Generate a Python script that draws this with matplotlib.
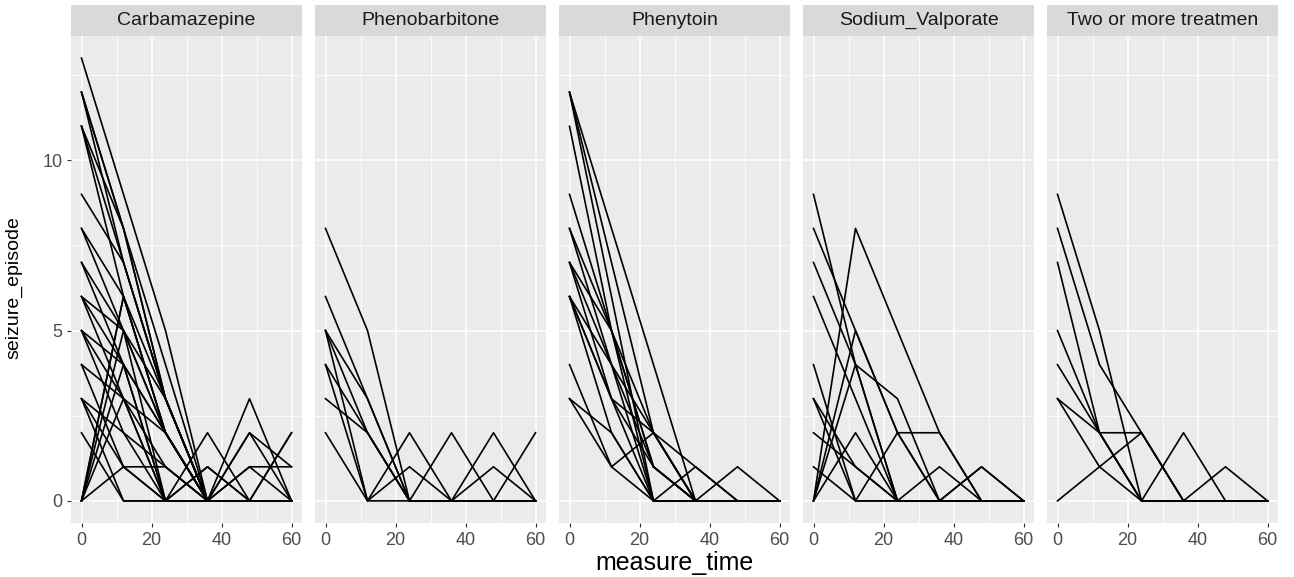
import numpy as np
import matplotlib
matplotlib.use("Agg")
from matplotlib import pyplot as plt
from matplotlib.patches import Rectangle

plt.rcParams['font.family'] = ['Liberation Sans', 'DejaVu Sans']

times = [0, 12, 24, 36, 48, 60]

treatments = ['Carbamazepine', 'Phenobarbitone', 'Phenytoin', 'Sodium_Valporate', 'Two or more treatmen']

carbamazepine = [
    [13, 9, 5, 0, 0, 0],
    [12, 8, 3, 0, 0, 0],
    [12, 7, 3, 0, 0, 0],
    [12, 8, 4, 0, 0, 0],
    [11, 7, 3, 0, 0, 0],
    [11, 6, 2, 0, 0, 0],
    [11, 8, 3, 0, 0, 0],
    [9, 7, 3, 0, 2, 0],
    [8, 6, 2, 0, 0, 0],
    [8, 5, 0, 0, 0, 0],
    [7, 5, 2, 0, 0, 0],
    [7, 4, 0, 2, 0, 0],
    [6, 5, 3, 0, 0, 0],
    [6, 4, 2, 0, 0, 2],
    [6, 3, 0, 1, 0, 0],
    [5, 4, 2, 0, 0, 0],
    [5, 3, 1, 0, 0, 0],
    [5, 2, 0, 0, 3, 0],
    [4, 3, 2, 0, 0, 0],
    [4, 1, 0, 0, 2, 1],
    [3, 2, 1, 0, 1, 1],
    [3, 1, 1, 0, 0, 0],
    [3, 0, 0, 1, 0, 0],
    [2, 0, 0, 0, 1, 0],
    [0, 5, 2, 0, 0, 0],
    [0, 6, 3, 0, 0, 0],
    [0, 4, 0, 0, 0, 2],
    [0, 3, 0, 0, 0, 0],
    [0, 1, 0, 0, 0, 0],
    [0, 6, 2, 0, 0, 0],
]

phenobarbitone = [
    [8, 5, 0, 0, 0, 0],
    [6, 3, 0, 2, 0, 0],
    [5, 2, 0, 0, 0, 2],
    [5, 0, 2, 0, 0, 0],
    [5, 3, 0, 0, 0, 0],
    [4, 0, 1, 0, 0, 0],
    [4, 2, 0, 0, 2, 0],
    [3, 2, 0, 0, 1, 0],
    [2, 0, 0, 0, 0, 0],
]

phenytoin = [
    [12, 8, 4, 0, 0, 0],
    [12, 7, 2, 0, 0, 0],
    [12, 6, 0, 0, 0, 0],
    [11, 5, 0, 0, 0, 0],
    [9, 5, 2, 0, 0, 0],
    [8, 5, 1, 0, 0, 0],
    [8, 4, 0, 0, 0, 0],
    [7, 5, 1, 0, 0, 0],
    [7, 3, 0, 1, 0, 0],
    [7, 4, 1, 0, 1, 0],
    [6, 3, 1, 0, 0, 0],
    [6, 2, 0, 0, 0, 0],
    [6, 4, 2, 0, 0, 0],
    [6, 3, 2, 1, 0, 0],
    [4, 1, 2, 0, 0, 0],
    [3, 2, 0, 0, 0, 0],
    [3, 1, 0, 0, 0, 0],
]

sodium_valporate = [
    [9, 4, 0, 0, 0, 0],
    [8, 5, 2, 0, 0, 0],
    [7, 4, 0, 0, 0, 0],
    [6, 3, 0, 0, 0, 0],
    [0, 8, 5, 2, 0, 0],
    [0, 4, 3, 0, 0, 0],
    [0, 5, 2, 2, 0, 0],
    [0, 2, 0, 0, 1, 0],
    [4, 0, 0, 1, 0, 0],
    [3, 1, 0, 0, 1, 0],
    [3, 0, 2, 0, 0, 0],
    [2, 1, 0, 0, 0, 0],
    [1, 0, 0, 0, 0, 0],
]

two_or_more = [
    [9, 5, 0, 0, 0, 0],
    [8, 4, 2, 0, 0, 0],
    [7, 2, 0, 0, 0, 0],
    [5, 2, 2, 0, 0, 0],
    [4, 2, 0, 0, 0, 0],
    [3, 2, 0, 2, 0, 0],
    [3, 1, 0, 0, 1, 0],
    [0, 1, 2, 0, 0, 0],
]

series = [carbamazepine, phenobarbitone, phenytoin, sodium_valporate, two_or_more]

W, H = 1294, 577
fig = plt.figure(figsize=(W / 100, H / 100), dpi=100)
fig.patch.set_facecolor('white')

left0, pw, gap = 71, 231, 13
ptop, pbot = 36, 523
strip_h = 31

for i, (name, subj) in enumerate(zip(treatments, series)):
    left = left0 + i * (pw + gap)
    ax = fig.add_axes([left / W, (H - pbot) / H, pw / W, (pbot - ptop) / H])
    ax.set_facecolor('#EBEBEB')
    for s in ax.spines.values():
        s.set_visible(False)

    for vals in subj:
        ax.plot(times, vals, color='black', lw=1.2, solid_joinstyle='round')

    ax.set_xlim(-3, 63)
    ax.set_ylim(-0.65, 13.65)
    ax.set_xticks([0, 20, 40, 60])
    ax.set_xticks([10, 30, 50], minor=True)
    ax.set_yticks([0, 5, 10])
    ax.set_yticks([2.5, 7.5, 12.5], minor=True)
    ax.grid(which='major', color='white', lw=1.1)
    ax.grid(which='minor', color='white', lw=0.55)
    ax.set_axisbelow(True)
    ax.tick_params(which='minor', length=0)
    ax.tick_params(which='major', length=3.2, width=0.8, color='#333333',
                   labelsize=13, labelcolor='#4D4D4D', pad=3)
    if i > 0:
        ax.tick_params(axis='y', which='major', length=0, labelleft=False)

    # facet strip
    sh = strip_h / (pbot - ptop)
    ax.add_patch(Rectangle((0, 1), 1, sh, transform=ax.transAxes,
                           facecolor='#D9D9D9', edgecolor='none', clip_on=False))
    ax.text(0.5, 1 + sh / 2, name, transform=ax.transAxes, ha='center', va='center',
            fontsize=14, color='#1A1A1A')

fig.text((left0 + (5 * pw + 4 * gap) / 2) / W, 1 - 563 / H, 'measure_time',
         ha='center', va='center', fontsize=18)
fig.text(14 / W, 1 - 288 / H, 'seizure_episode', rotation=90,
         ha='center', va='center', fontsize=14)

fig.savefig('out.png', dpi=100)
